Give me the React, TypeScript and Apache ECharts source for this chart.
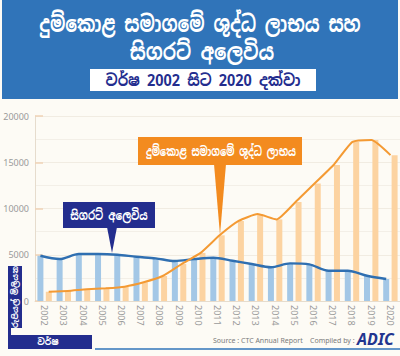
import React, { useEffect, useRef } from 'react';
import * as echarts from 'echarts';

const years = ['2002', '2003', '2004', '2005', '2006', '2007', '2008', '2009', '2010', '2011', '2012', '2013', '2014', '2015', '2016', '2017', '2018', '2019', '2020'];
const netProfit = [1000, 1080, 1260, 1370, 1550, 2020, 2700, 4000, 5200, 7100, 8650, 9400, 8820, 10700, 12700, 14700, 17200, 17400, 15770];
const cigaretteSales = [4890, 4540, 5080, 5080, 5000, 4780, 4610, 4320, 4530, 4680, 4350, 4000, 3650, 4070, 3960, 3270, 3270, 2730, 2380];
const yMin = 0;
const yMax = 20000;
const yInterval = 5000;

const titleLine1 = 'දුම්කොළ සමාගමේ ශුද්ධ ලාභය සහ';
const titleLine2 = 'සිගරට් අලෙවිය';
const subtitle = 'වර්ෂ 2002 සිට 2020 දක්වා';
const profitLabel = 'දුම්කොළ සමාගමේ ශුද්ධ ලාභය';
const salesLabel = 'සිගරට් අලෙවිය';
const yAxisName = 'රුපියල් මිලියන';
const xAxisName = 'වර්ෂ';
const sourceText = 'Source : CTC Annual Report';
const compiledText = 'Compiled by :';
const logoText = 'ADIC';

const FONT = '"Noto Sans Sinhala", "Noto Sans", sans-serif';
const NAVY = '#232d8e';
const BLUE = '#3074b9';
const ORANGE = '#f38b1f';

export default function App() {
  const ref = useRef<HTMLDivElement>(null);
  useEffect(() => {
    if (!ref.current) return;
    const chart = echarts.init(ref.current, null, { renderer: 'svg' });
    const GL = 35, GW = 365, GT = 116, GH = 185, OFF = 4.2;
    const grids = [
      { left: GL, top: GT, width: GW, height: GH },
      { left: GL - OFF, top: GT, width: GW, height: GH },
      { left: GL + OFF, top: GT, width: GW, height: GH },
    ];
    const xAxes = grids.map((_, i) => ({
      type: 'category',
      gridIndex: i,
      data: years,
      show: i === 0,
      axisLine: { show: true, lineStyle: { color: '#e6dccd', width: 1 } },
      axisTick: { show: false },
      axisLabel: { rotate: -90, color: '#9a9a9a', fontSize: 9, margin: 4, fontFamily: 'Noto Sans, sans-serif' },
    }));
    const yAxes = grids.map((_, i) => ({
      type: 'value',
      gridIndex: i,
      min: yMin,
      max: yMax,
      interval: yInterval,
      show: i === 0,
      axisLine: { show: true, lineStyle: { color: '#e6dccd', width: 1 } },
      axisTick: { show: true, inside: true, length: 8, lineStyle: { color: '#efd3b6', width: 1.5 } },
      axisLabel: { color: '#9a9a9a', fontSize: 9, margin: 6, fontFamily: 'Noto Sans, sans-serif', formatter: (v: number) => String(v) },
      splitLine: { show: i === 0, lineStyle: { color: '#f1ece2', width: 1 } },
      minorSplitLine: { show: i === 0, lineStyle: { color: '#f3efe7', width: 1 } },
      minorTick: { show: false, splitNumber: 2 },
    }));
    chart.setOption({
      animation: false,
      backgroundColor: '#fdfbf5',
      grid: grids,
      xAxis: xAxes,
      yAxis: yAxes,
      series: [
        { type: 'bar', name: 'salesBar', data: cigaretteSales, barWidth: 6, barGap: '40%', itemStyle: { color: '#a3c7e6' }, xAxisIndex: 0, yAxisIndex: 0 },
        { type: 'bar', name: 'profitBar', data: netProfit, barWidth: 6, barGap: '40%', itemStyle: { color: '#fcd3a1' }, xAxisIndex: 0, yAxisIndex: 0 },
        { type: 'line', name: 'salesLine', data: cigaretteSales, xAxisIndex: 1, yAxisIndex: 1, symbol: 'none', smooth: 0.3, lineStyle: { color: '#2f6fb1', width: 2.4 }, z: 3 },
        { type: 'line', name: 'profitLine', data: netProfit, xAxisIndex: 2, yAxisIndex: 2, symbol: 'none', smooth: 0.15, lineStyle: { color: '#f49a33', width: 2 }, z: 4 },
      ],
      graphic: [
        { type: 'rect', shape: { x: 2, y: 0, width: 396, height: 99 }, style: { fill: BLUE }, z: 10 },
        { type: 'text', x: 200, y: 24, scaleX: 0.76, style: { text: titleLine1, fill: '#ffffff', font: `bold 23px ${FONT}`, align: 'center', verticalAlign: 'middle' }, z: 11 },
        { type: 'text', x: 202, y: 52, scaleX: 0.8, style: { text: titleLine2, fill: '#ffffff', font: `bold 23px ${FONT}`, align: 'center', verticalAlign: 'middle' }, z: 11 },
        { type: 'rect', shape: { x: 90, y: 69, width: 226, height: 22 }, style: { fill: '#ffffff' }, z: 11 },
        { type: 'text', x: 203, y: 80, scaleX: 0.9, style: { text: subtitle, fill: NAVY, font: `bold 16px ${FONT}`, align: 'center', verticalAlign: 'middle' }, z: 12 },

        { type: 'polygon', shape: { points: [[214, 164], [226, 164], [220, 235]] }, style: { fill: ORANGE }, z: 10 },
        { type: 'rect', shape: { x: 138, y: 137, width: 164, height: 28 }, style: { fill: ORANGE }, z: 10 },
        { type: 'text', x: 221, y: 151, scaleX: 0.72, style: { text: profitLabel, fill: '#ffffff', font: `bold 13px ${FONT}`, align: 'center', verticalAlign: 'middle' }, z: 11 },

        { type: 'polygon', shape: { points: [[107, 227], [117, 227], [112, 253]] }, style: { fill: NAVY }, z: 10 },
        { type: 'rect', shape: { x: 63, y: 202, width: 92, height: 26 }, style: { fill: NAVY }, z: 10 },
        { type: 'text', x: 109, y: 215, scaleX: 0.76, style: { text: salesLabel, fill: '#ffffff', font: `bold 13px ${FONT}`, align: 'center', verticalAlign: 'middle' }, z: 11 },

        { type: 'rect', shape: { x: 8, y: 266, width: 14, height: 62 }, style: { fill: NAVY }, z: 10 },
        { type: 'rect', shape: { x: 8, y: 266, width: 3, height: 80 }, style: { fill: NAVY }, z: 10 },
        { type: 'rect', shape: { x: 8, y: 335, width: 84, height: 14 }, style: { fill: NAVY }, z: 10 },
        { type: 'text', x: 15, y: 297, rotation: Math.PI / 2, style: { text: yAxisName, fill: '#ffffff', font: `bold 8px ${FONT}`, align: 'center', verticalAlign: 'middle' }, z: 11 },
        { type: 'text', x: 48, y: 342, style: { text: xAxisName, fill: '#ffffff', font: `bold 9px ${FONT}`, align: 'center', verticalAlign: 'middle' }, z: 11 },

        { type: 'text', x: 213, y: 340, style: { text: sourceText, fill: '#7a7a7a', font: `7px "Noto Sans", sans-serif`, align: 'left', verticalAlign: 'middle' }, z: 11 },
        { type: 'text', x: 310, y: 340, style: { text: compiledText, fill: '#7a7a7a', font: `7px "Noto Sans", sans-serif`, align: 'left', verticalAlign: 'middle' }, z: 11 },
        { type: 'text', x: 357, y: 339, style: { text: logoText, fill: '#22358f', font: `italic bold 16px "Noto Sans", sans-serif`, align: 'left', verticalAlign: 'middle' }, z: 11 },
        { type: 'line', shape: { x1: 95, y1: 349, x2: 400, y2: 349 }, style: { stroke: BLUE, lineWidth: 1.5 }, z: 10 },
      ],
    });
    return () => chart.dispose();
  }, []);
  return <div ref={ref} style={{ position: 'fixed', left: 0, top: 0, width: 400, height: 356 }} />;
}
